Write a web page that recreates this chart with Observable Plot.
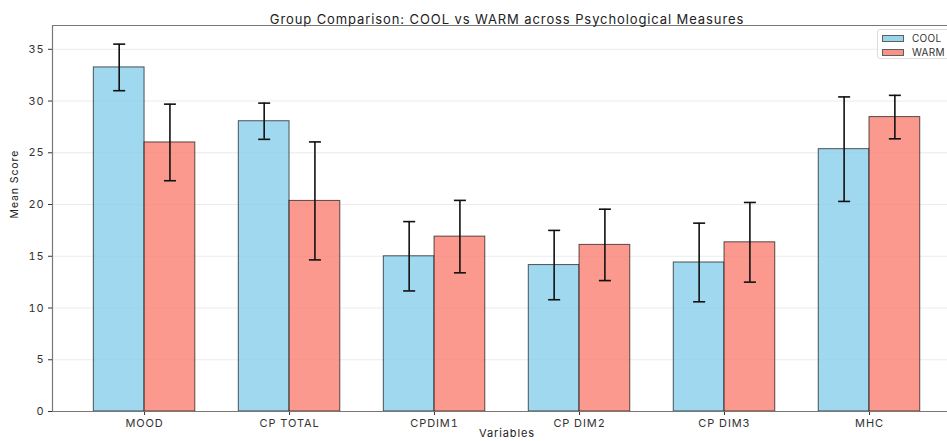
<!DOCTYPE html>
<html>
<head>
<meta charset="utf-8">
<script src="https://cdn.jsdelivr.net/npm/d3@7"></script>
<script src="https://cdn.jsdelivr.net/npm/@observablehq/plot@0.6"></script>
<style>
  html, body { margin: 0; padding: 0; background: #fff; }
  #wrap { position: relative; width: 947px; height: 441px; overflow: hidden; font-family: "Inter", "DejaVu Sans", sans-serif; }
  #legend { position: absolute; left: 877px; top: 29px; width: 90px; height: 28px; border: 1px solid #ddd; border-radius: 3px; background: rgba(255,255,255,0.85); font-size: 10px; color: #333; letter-spacing: 0.3px; }
  .item { position: absolute; left: 4px; height: 8px; display: flex; align-items: center; white-space: nowrap; }
  .sw { width: 22px; height: 7px; border: 1px solid #444; margin-right: 8px; box-sizing: border-box; }
  svg text { letter-spacing: 0.9px; }
</style>
</head>
<body>
<div id="wrap"></div>
<script>
const categories = ["MOOD", "CP TOTAL", "CPDIM1", "CP DIM2", "CP DIM3", "MHC"];
const groups = ["COOL", "WARM"];
const coolMean = [33.25, 28.05, 15.0, 14.15, 14.4, 25.35];
const coolSd   = [2.25, 1.75, 3.35, 3.35, 3.8, 5.05];
const warmMean = [26.0, 20.35, 16.9, 16.1, 16.35, 28.45];
const warmSd   = [3.7, 5.7, 3.5, 3.45, 3.85, 2.1];
const yTicks = [0, 5, 10, 15, 20, 25, 30, 35];
const colors = ["#87CEEB", "#FA8072"];
const title = "Group Comparison: COOL vs WARM across Psychological Measures";
const xLabel = "Variables";
const yLabel = "Mean Score";

const barWidth = 0.35;
const yMax = 37.3;
const xMin = -0.635, xMax = 5.538, xFullMax = 5.635;

const rows = [];
categories.forEach((c, i) => {
  [[coolMean, coolSd], [warmMean, warmSd]].forEach(([m, s], g) => {
    const x1 = i + (g === 0 ? -barWidth : 0);
    rows.push({cat: c, i, group: groups[g], x1, x2: x1 + barWidth, xc: x1 + barWidth / 2,
               mean: m[i], lo: m[i] - s[i], hi: m[i] + s[i]});
  });
});

const capSymbol = {
  draw(ctx) { ctx.moveTo(-6, 0); ctx.lineTo(6, 0); }
};

const chart = Plot.plot({
  width: 947,
  height: 441,
  marginLeft: 52,
  marginRight: 0,
  marginTop: 25,
  marginBottom: 30,
  style: {fontFamily: "Inter, 'DejaVu Sans', sans-serif", fontSize: "11px", color: "#333", background: "#fff"},
  x: {domain: [xMin, xMax], ticks: categories.map((_, i) => i), tickFormat: i => categories[i],
      label: null, tickSize: 4, tickPadding: 4},
  y: {domain: [0, yMax], ticks: yTicks, label: null, tickSize: 4, tickPadding: 4},
  color: {domain: groups, range: colors},
  marks: [
    Plot.gridY(yTicks, {stroke: "#ccc", strokeOpacity: 0.5, strokeWidth: 0.8}),
    Plot.rect(rows, {x1: "x1", x2: "x2", y1: 0, y2: "mean", fill: "group", fillOpacity: 0.8,
                     stroke: "#000", strokeOpacity: 0.65, strokeWidth: 1}),
    Plot.ruleX(rows, {x: "xc", y1: "lo", y2: "hi", stroke: "#111", strokeWidth: 1.6}),
    Plot.dot(rows, {x: "xc", y: "lo", symbol: capSymbol, stroke: "#111", strokeWidth: 1.6, fill: "none"}),
    Plot.dot(rows, {x: "xc", y: "hi", symbol: capSymbol, stroke: "#111", strokeWidth: 1.6, fill: "none"}),
    Plot.ruleX([xMin], {stroke: "#777", strokeWidth: 1.2}),
    Plot.ruleY([0, yMax], {stroke: "#777", strokeWidth: 1.2}),
    Plot.text([title], {frameAnchor: "top", dy: -11, fontSize: 13, fill: "#222", x: () => (xMin + xFullMax) / 2}),
    Plot.text([xLabel], {frameAnchor: "bottom", dy: 25, fontSize: 11, fill: "#222", x: () => (xMin + xFullMax) / 2}),
    Plot.text([yLabel], {frameAnchor: "left", dx: -38, rotate: -90, fontSize: 10.5, fill: "#222"})
  ]
});

const wrap = document.getElementById("wrap");
wrap.appendChild(chart);
const legend = document.createElement("div");
legend.id = "legend";
groups.forEach((g, k) => {
  const it = document.createElement("div");
  it.className = "item";
  it.style.top = (k === 0 ? 4 : 18) + "px";
  it.innerHTML = `<span class="sw" style="background:${colors[k]};opacity:0.85"></span><span>${g}</span>`;
  legend.appendChild(it);
});
wrap.appendChild(legend);
</script>
</body>
</html>
